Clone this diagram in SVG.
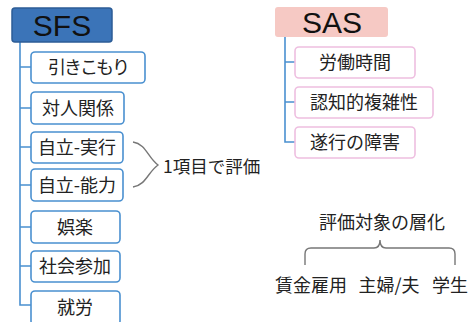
<svg xmlns="http://www.w3.org/2000/svg" width="468" height="322" viewBox="0 0 468 322">
<style>
text{font-family:"Noto Sans CJK JP","Liberation Sans",sans-serif;fill:#222;}
.t{font-size:18px;text-anchor:middle;}
.h{font-family:"Liberation Sans",sans-serif;font-size:30px;text-anchor:middle;fill:#111;}
.b{fill:#fff;stroke:#4a90d0;stroke-width:1.6;}
.p{fill:#fff;stroke:#eebfe0;stroke-width:1.6;}
.l{fill:none;stroke:#4a90d0;stroke-width:1.6;}
.g{fill:none;stroke:#777;stroke-width:1.4;}
</style>
<rect width="468" height="322" fill="#fff"/>
<g id="connectors">
<path class="l" d="M20 42V305H31M20 67H31M20 108H31M20 147H31M20 185H31M20 227H31M20 266H31"/>
<path class="l" d="M285 37V142H295M285 62H295M285 102H295"/>
<path class="g" d="M133 142C146 144 148 158 158 165C148 172 146 185 133 187"/>
<path class="g" d="M305 265V254Q305 248 311 248H374Q380 248 380 240Q380 248 386 248H449Q455 248 455 254V265"/>
</g>
<g id="sfs"><rect x="12" y="8" width="100" height="34" rx="3" fill="#3b74b8" stroke="#2c5c96" stroke-width="1.5"/><text class="h" x="62" y="36">SFS</text></g>
<g id="n1"><rect class="b" x="31" y="52" width="114" height="31" rx="4"/><text class="t" x="88" y="74" letter-spacing="-2">引きこもり</text></g>
<g id="n2"><rect class="b" x="31" y="92" width="93" height="32" rx="4"/><text class="t" x="78" y="115">対人関係</text></g>
<g id="n3"><rect class="b" x="31" y="132" width="92" height="31" rx="4"/><text class="t" x="77" y="154">自立-実行</text></g>
<g id="n4"><rect class="b" x="31" y="169" width="92" height="32" rx="4"/><text class="t" x="77" y="192">自立-能力</text></g>
<g id="n5"><rect class="b" x="31" y="211" width="89" height="32" rx="4"/><text class="t" x="75" y="234">娯楽</text></g>
<g id="n6"><rect class="b" x="31" y="251" width="89" height="31" rx="4"/><text class="t" x="75" y="273">社会参加</text></g>
<g id="n7"><rect class="b" x="31" y="291" width="89" height="34" rx="4"/><text class="t" x="75" y="314">就労</text></g>
<g id="note1"><text x="163" y="173" style="font-size:17.5px">1項目で評価</text></g>
<g id="sas"><rect x="275" y="7" width="113" height="30" rx="3" fill="#f6c9c4"/><text class="h" x="332" y="33">SAS</text></g>
<g id="s1"><rect class="p" x="295" y="47" width="120" height="31" rx="4"/><text class="t" x="355" y="69">労働時間</text></g>
<g id="s2"><rect class="p" x="295" y="87" width="138" height="31" rx="4"/><text class="t" x="364" y="109">認知的複雑性</text></g>
<g id="s3"><rect class="p" x="295" y="127" width="120" height="31" rx="4"/><text class="t" x="355" y="149">遂行の障害</text></g>
<g id="note2"><text class="t" x="382" y="229">評価対象の層化</text></g>
<g id="c1"><text class="t" x="311" y="292">賃金雇用</text></g>
<g id="c2"><text class="t" x="389" y="292">主婦/夫</text></g>
<g id="c3"><text class="t" x="450" y="292">学生</text></g>
</svg>
